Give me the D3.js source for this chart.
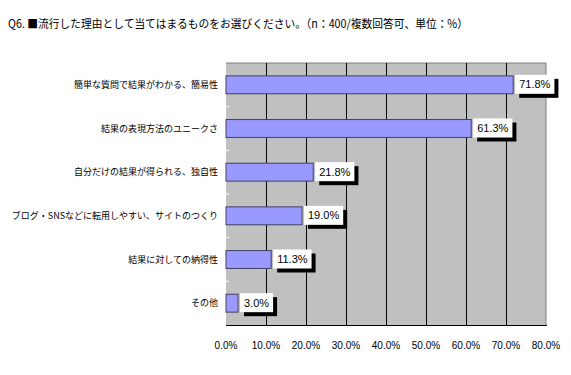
<!DOCTYPE html>
<html><head><meta charset="utf-8">
<script src="https://cdn.jsdelivr.net/npm/d3@7"></script>
<style>
body{margin:0;background:#fff;}
svg{display:block;}
</style></head>
<body><svg id="c" width="571" height="375"></svg>
<script>
const titleText = "Q6. ■流行した理由として当てはまるものをお選びください。（n：400/複数回答可、単位：%）";
const categories = ["簡単な質問で結果がわかる、簡易性","結果の表現方法のユニークさ","自分だけの結果が得られる、独自性","ブログ・SNSなどに転用しやすい、サイトのつくり","結果に対しての納得性","その他"];
const values = [71.8, 61.3, 21.8, 19.0, 11.3, 3.0];
const ticks = [0,10,20,30,40,50,60,70,80];

const svg = d3.select("#c");
const L=226, R=546, T=63, B=325;
const x = d3.scaleLinear().domain([0,80]).range([L,R]);
const y = d3.scaleBand().domain(categories).range([T,B]).paddingInner(0.59).paddingOuter(0.295);

svg.append("text").attr("x",8).attr("y",28)
  .attr("font-family","'Noto Sans CJK JP', sans-serif").attr("font-size",11.5).attr("fill","#000")
  .attr("textLength",460).attr("lengthAdjust","spacingAndGlyphs")
  .text(titleText);

svg.append("rect").attr("x",L).attr("y",T).attr("width",R-L).attr("height",B-T).attr("fill","#c0c0c0");
// border top/right gray
svg.append("path").attr("d",`M${L},${T}H${R}V${B}`).attr("fill","none").attr("stroke","#808080").attr("stroke-width",1);
// gridlines
svg.append("g").selectAll("line").data(ticks.filter(t=>t>0&&t<80)).join("line")
  .attr("x1",d=>Math.round(x(d))+0.5).attr("x2",d=>Math.round(x(d))+0.5).attr("y1",T).attr("y2",B)
  .attr("stroke","#000").attr("stroke-width",1);
// bottom axis line
svg.append("line").attr("x1",L).attr("x2",R+1).attr("y1",B+0.5).attr("y2",B+0.5).attr("stroke","#000");
// left inner white ticks at band boundaries
const step = y.step();
svg.append("g").selectAll("line").data(d3.range(1,categories.length)).join("line")
  .attr("x1",L).attr("x2",L+3).attr("y1",d=>T+d*step).attr("y2",d=>T+d*step)
  .attr("stroke","#fff").attr("stroke-width",1);

// bars
svg.append("g").selectAll("rect").data(values).join("rect")
  .attr("x",L).attr("y",(d,i)=>y(categories[i]))
  .attr("width",d=>x(d)-L).attr("height",y.bandwidth())
  .attr("fill","#9999ff").attr("stroke","#404060").attr("stroke-width",1);

// category labels
svg.append("g").selectAll("text").data(categories).join("text")
  .attr("x",218).attr("y",d=>y(d)+y.bandwidth()/2+3)
  .attr("text-anchor","end").attr("font-family","'Noto Sans CJK JP', sans-serif").attr("font-size",9)
  .attr("fill","#000").text(d=>d);

// value labels
const lg = svg.append("g").selectAll("g").data(values).join("g");
lg.each(function(d,i){
  const g=d3.select(this);
  const txt = d.toFixed(1)+"%";
  const t = g.append("text").attr("font-family","'Liberation Sans', Arial, sans-serif").attr("font-size",11).text(txt);
  const w = t.node().getComputedTextLength();
  const bw = w+8, bh=19;
  const bx = x(d)+2, by = y(categories[i])+y.bandwidth()/2-bh/2-0.5;
  g.insert("rect","text").attr("x",bx+4).attr("y",by+4).attr("width",bw).attr("height",bh).attr("fill","#000");
  g.insert("rect","text").attr("x",bx).attr("y",by).attr("width",bw).attr("height",bh).attr("fill","#fff");
  t.attr("x",bx+4).attr("y",by+bh/2+4).attr("fill","#000");
});

// x tick labels
svg.append("g").selectAll("text").data(ticks).join("text")
  .attr("x",d=>x(d)).attr("y",349).attr("text-anchor","middle")
  .attr("font-family","'Liberation Sans', Arial, sans-serif").attr("font-size",10).attr("fill","#000")
  .text(d=>d.toFixed(1)+"%");
</script></body></html>
